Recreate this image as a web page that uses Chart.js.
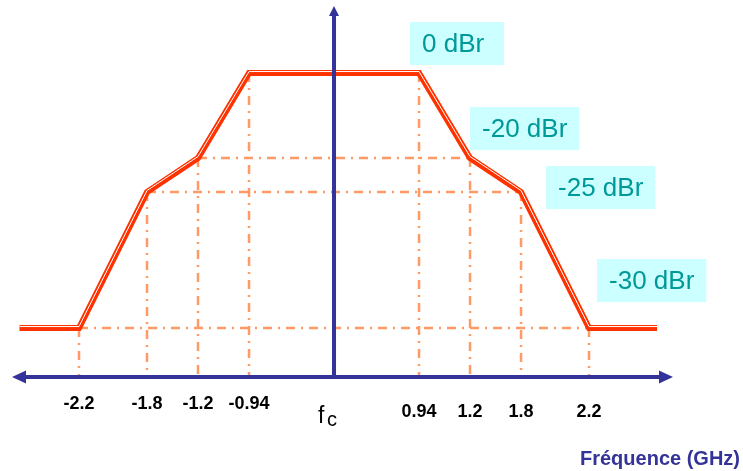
<!DOCTYPE html>
<html>
<head>
<meta charset="UTF-8">
<title>Gabarit spectral</title>
<script src="https://cdn.jsdelivr.net/npm/chart.js@4.4.1/dist/chart.umd.min.js"></script>
<style>
  body { margin: 0; background: #fff; }
  #wrap { width: 743px; height: 471px; }
</style>
</head>
<body>
<div id="wrap"><canvas id="chart"></canvas></div>
<script>
// mask breakpoints, offset from fc in GHz, and level in dBr
const freqGHz = [-2.55, -2.2, -1.8, -1.2, -0.94, 0.94, 1.2, 1.8, 2.2, 2.6];
const levelDbr = [-30, -30, -25, -20, 0, 0, -20, -25, -30, -30];
// x axis ticks (0 is fc, drawn apart because of the subscript)
const tickValues = [-2.2, -1.8, -1.2, -0.94, 0, 0.94, 1.2, 1.8, 2.2];
const tickLabels = ['-2.2', '-1.8', '-1.2', '-0.94', '', '0.94', '1.2', '1.8', '2.2'];
// level callouts
const levelLabels = ['0 dBr', '-20 dBr', '-25 dBr', '-30 dBr'];
const levelValues = [0, -20, -25, -30];
const levelAtGHz = [0.94, 1.2, 1.8, 2.2];

const FAMILY = "'Liberation Sans', Arial, sans-serif";
const AXIS = '#333399', MASK = '#FF3300', GUIDE = '#FF9966';

// the drawing is a sketch, not to scale: each breakpoint sits on a 17px grid step
const SPACING = {
  x: { knots: tickValues, steps: [-15, -11, -8, -5, 0, 5, 8, 11, 15], min: -19.647, max: 23.88 },
  y: { knots: [-30, -25, -20, 0], steps: [3, 11, 13, 18], min: 0.12, max: 22.296 }
};
// callout box offsets from their breakpoint (px)
const boxOffset = [[-9, -51], [0, -51], [25, -26], [8, -69]];

class SchemaScale extends Chart.LinearScale {
  static id = 'schema';
  static defaults = {};
  toStep(v) {
    const s = SPACING[this.axis], k = s.knots, u = s.steps;
    let i = 1;
    while (i < k.length - 1 && v > k[i]) i++;
    return u[i - 1] + (v - k[i - 1]) * (u[i] - u[i - 1]) / (k[i] - k[i - 1]);
  }
  getPixelForValue(v) {
    const s = SPACING[this.axis];
    return this.getPixelForDecimal((this.toStep(v) - s.min) / (s.max - s.min));
  }
}
Chart.register(SchemaScale);

function tri(ctx, a, b, c) {
  ctx.beginPath(); ctx.moveTo(a[0], a[1]); ctx.lineTo(b[0], b[1]); ctx.lineTo(c[0], c[1]); ctx.closePath(); ctx.fill();
}

const maskDecor = {
  id: 'maskDecor',
  beforeDatasetsDraw(chart) {
    const {ctx, chartArea, scales: {x, y}} = chart;
    const n = freqGHz.length;
    ctx.save();
    ctx.strokeStyle = GUIDE; ctx.lineWidth = 2.5; ctx.setLineDash([9, 6, 2, 6]);
    for (let i = 1; i < n - 1; i++) {
      const px = x.getPixelForValue(freqGHz[i]), py = y.getPixelForValue(levelDbr[i]);
      ctx.beginPath(); ctx.moveTo(px, py); ctx.lineTo(px, chartArea.bottom); ctx.stroke();
      const j = n - 1 - i;
      if (i < j && levelDbr[i] < 0) {
        ctx.beginPath(); ctx.moveTo(px, py); ctx.lineTo(x.getPixelForValue(freqGHz[j]), py); ctx.stroke();
      }
    }
    ctx.restore();
  },
  // thin white stripe inside the red mask line
  beforeDatasetDraw(chart, args) {
    if (args.index === 1) { chart.ctx.save(); chart.ctx.translate(0, -1.5); }
  },
  afterDatasetDraw(chart, args) {
    if (args.index === 1) chart.ctx.restore();
  },
  afterDatasetsDraw(chart) {
    const {ctx, chartArea: a, scales: {x, y}} = chart;
    const x0 = x.getPixelForValue(0), y0 = a.bottom;
    ctx.save();
    ctx.strokeStyle = AXIS; ctx.fillStyle = AXIS; ctx.lineWidth = 4;
    ctx.beginPath(); ctx.moveTo(a.left + 24, y0); ctx.lineTo(a.left + 662, y0); ctx.stroke();
    ctx.beginPath(); ctx.moveTo(x0, y0); ctx.lineTo(x0, a.top + 14); ctx.stroke();
    tri(ctx, [a.left + 12, y0], [a.left + 26, y0 - 6.5], [a.left + 26, y0 + 6.5]);
    tri(ctx, [a.left + 673, y0], [a.left + 659, y0 - 6.5], [a.left + 659, y0 + 6.5]);
    tri(ctx, [x0, a.top + 6], [x0 - 5, a.top + 16], [x0 + 5, a.top + 16]);

    ctx.font = '26px ' + FAMILY; ctx.textBaseline = 'middle'; ctx.textAlign = 'left';
    levelLabels.forEach((t, i) => {
      const bx = x.getPixelForValue(levelAtGHz[i]) + boxOffset[i][0];
      const by = y.getPixelForValue(levelValues[i]) + boxOffset[i][1];
      const w = Math.max(94, ctx.measureText(t).width + 24);
      ctx.fillStyle = '#CCFFFF'; ctx.fillRect(bx, by, w, 43);
      ctx.fillStyle = '#009999'; ctx.fillText(t, bx + 12, by + 23);
    });

    ctx.fillStyle = '#000'; ctx.textBaseline = 'alphabetic';
    ctx.font = '23px ' + FAMILY; ctx.fillText('f', x0 - 16, y0 + 46);
    ctx.font = '20px ' + FAMILY; ctx.fillText('c', x0 - 7, y0 + 49);
    ctx.restore();
  }
};

const maskPoints = freqGHz.map((f, i) => ({x: f, y: levelDbr[i]}));

new Chart(document.getElementById('chart'), {
  type: 'line',
  data: {
    datasets: [
      { data: maskPoints, borderColor: MASK, borderWidth: 6, order: 2 },
      { data: maskPoints, borderColor: '#FFFFFF', borderWidth: 1, order: 1 }
    ]
  },
  options: {
    responsive: true,
    maintainAspectRatio: false,
    animation: false,
    events: [],
    layout: { padding: { left: 0, right: 3, top: 0, bottom: 0 } },
    elements: {
      point: { radius: 0 },
      line: { tension: 0, borderJoinStyle: 'miter', fill: false }
    },
    plugins: { legend: { display: false }, tooltip: { enabled: false } },
    scales: {
      x: {
        type: 'schema',
        position: 'bottom',
        min: -2.6, max: 3.1,
        afterBuildTicks: s => { s.ticks = tickValues.map(v => ({value: v})); },
        afterFit: s => { s.height = 94; },
        grid: { display: false, drawTicks: false },
        border: { display: false },
        ticks: {
          autoSkip: false, maxRotation: 0, minRotation: 0, padding: 18, color: '#000',
          font: c => ({ family: FAMILY, size: 18, weight: 'bold', lineHeight: c.index > 4 ? '34px' : '19px' }),
          callback: (v, i) => tickLabels[i]
        },
        title: {
          display: true, text: 'Fréquence (GHz)', align: 'end', color: AXIS,
          font: { family: FAMILY, size: 20, weight: 'bold' },
          padding: { top: 0, bottom: 0 }
        }
      },
      y: { type: 'schema', display: false, min: -32, max: 5 }
    }
  },
  plugins: [maskDecor]
});
</script>
</body>
</html>
